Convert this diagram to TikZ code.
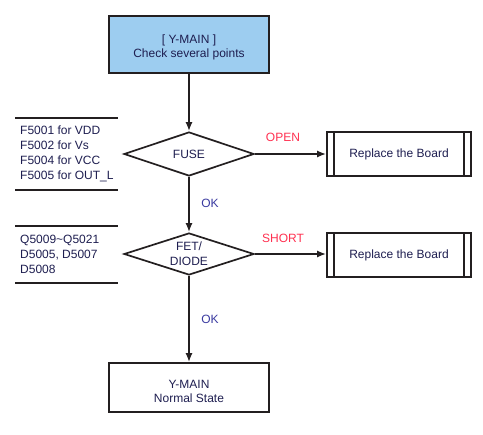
\documentclass[tikz,border=0pt]{standalone}
\usepackage{fontspec}
\setmainfont{Liberation Sans}
\usetikzlibrary{shapes.geometric,arrows.meta}
\definecolor{ink}{HTML}{231F20}
\definecolor{txt}{HTML}{1E1E50}
\definecolor{boxblue}{HTML}{9DCDF0}
\definecolor{okblue}{HTML}{3A3AA0}
\definecolor{warnred}{HTML}{FF3050}
\tikzset{
  base/.style={draw=ink, line width=1.7pt, text=txt, font=\fontsize{12}{15}\selectfont, align=center, inner sep=0pt},
  procbox/.style={base, rectangle, minimum width=160pt},
  boxtext/.style={text=txt, font=\fontsize{12}{14}\selectfont, align=center, inner sep=0pt},
  decision/.style={base, diamond, aspect=3, minimum width=130pt, minimum height=44pt},
  subproc/.style={base, rectangle, minimum width=144pt, minimum height=44pt},
  flow/.style={draw=ink, line width=1.7pt, -{Latex[length=9pt,width=7pt]}},
  rule/.style={draw=ink, line width=1.7pt},
  note/.style={text=txt, font=\fontsize{12}{15}\selectfont, align=left, anchor=west, inner sep=0pt},
  oklab/.style={text=okblue, font=\fontsize{12}{15}\selectfont, inner sep=0pt},
  badlab/.style={text=warnred, font=\fontsize{12}{15}\selectfont, inner sep=0pt}
}
\begin{document}
\begin{tikzpicture}[x=1pt,y=-1pt]
\useasboundingbox (0,0) rectangle (483,435);
% main column
\node[procbox, fill=boxblue, minimum height=57pt] (start) at (189,44.5) {};
\node[boxtext] (starttext) at ([yshift=-2.5pt]start.center) {[ Y-MAIN ]\\Check several points};
\node[decision] (fuse) at (189,154) {FUSE};
\node[decision, minimum height=42pt] (fet) at (189,254) {FET/\\DIODE};
\node[procbox, minimum height=49pt] (normal) at (189,387.5) {};
\node[boxtext] (normaltext) at ([yshift=-4pt]normal.center) {Y-MAIN\\Normal State};
% replace boxes
\node[subproc] (rep1) at (399,154) {Replace the Board};
\node[subproc] (rep2) at (399,255) {Replace the Board};
\foreach \r in {rep1,rep2}{
  \draw[rule] ([xshift=8pt]\r.north west) -- ([xshift=8pt]\r.south west);
  \draw[rule] ([xshift=-8pt]\r.north east) -- ([xshift=-8pt]\r.south east);
}
% connectors
\draw[flow] (start.south) -- (fuse.north);
\draw[flow] (fuse.south) -- (fet.north);
\draw[flow] (fet.south) -- (normal.north);
\draw[flow] (fuse.east) -- (rep1.west);
\draw[flow] (fet.east) -- (rep2.west |- fet.east);
% labels
\node[badlab] (open) at (283,137) {OPEN};
\node[badlab] (short) at (283,238) {SHORT};
\node[oklab] (ok1) at (210,203) {OK};
\node[oklab] (ok2) at (210,319) {OK};
% left notes
\coordinate (n1a) at (15,118); \coordinate (n1b) at (118,118);
\coordinate (n1c) at (15,190); \coordinate (n1d) at (118,190);
\draw[rule] (n1a) -- (n1b);
\draw[rule] (n1c) -- (n1d);
\node[note] (notes1) at (20,154) {F5001 for VDD\\F5002 for Vs\\F5004 for VCC\\F5005 for OUT\_L};
\coordinate (n2a) at (15,226); \coordinate (n2b) at (118,226);
\coordinate (n2c) at (15,283); \coordinate (n2d) at (118,283);
\draw[rule] (n2a) -- (n2b);
\draw[rule] (n2c) -- (n2d);
\node[note] (notes2) at (20,254) {Q5009\textasciitilde Q5021\\D5005, D5007\\D5008};
\end{tikzpicture}
\end{document}
